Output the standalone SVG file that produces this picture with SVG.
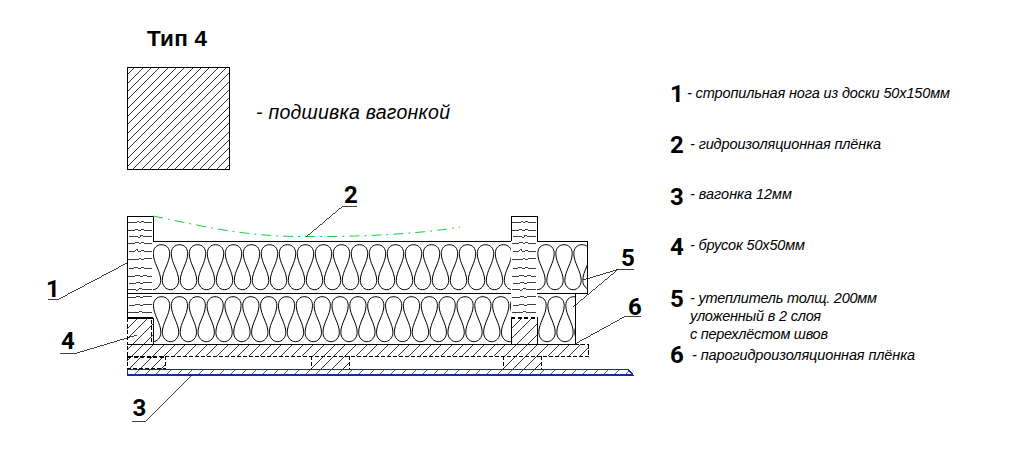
<svg xmlns="http://www.w3.org/2000/svg" width="1014" height="473" viewBox="0 0 1014 473" shape-rendering="crispEdges">
<style>
text{font-family:"Liberation Sans",Arial,sans-serif;fill:#000}
.num{font-family:Roboto,"Liberation Sans",sans-serif;font-size:24px;font-weight:700}
.leg{font-size:14.500px;font-style:italic}
.l{fill:none;stroke:#000;stroke-width:.75}
.w{fill:none;stroke:#000;stroke-width:1;shape-rendering:geometricPrecision}
.h{fill:none;stroke-width:.8}
.t{fill:none;stroke:#000;stroke-width:1.400}
.d{fill:none;stroke:#000;stroke-width:1;stroke-dasharray:4 2}
.dt{fill:none;stroke:#000;stroke-width:2;stroke-dasharray:4 2.500}
</style>
<defs>
<clipPath id="c-square"><rect x="127" y="67" width="102" height="102"/></clipPath>
<clipPath id="c-wood"><rect x="127" y="318" width="26" height="26"/><rect x="511" y="318" width="26" height="26"/><rect x="127" y="344" width="461" height="12"/><rect x="127" y="356" width="38" height="13"/><rect x="311" y="356" width="38" height="13"/><rect x="503" y="356" width="38" height="13"/></clipPath>
<clipPath id="c-blue"><path d="M127.500,369.500H628L633,375H127.500Z"/></clipPath>
<clipPath id="c-left"><rect x="153" y="241" width="358" height="104"/></clipPath>
<clipPath id="c-up"><rect x="537" y="241" width="50" height="52"/></clipPath>
<clipPath id="c-low"><rect x="537" y="293" width="38" height="51"/></clipPath>
<path id="hatch" class="h" d="M127,318l-60,60M137.670,318l-60,60M148.330,318l-60,60M159,318l-60,60M169.670,318l-60,60M180.330,318l-60,60M191,318l-60,60M201.670,318l-60,60M212.330,318l-60,60M223,318l-60,60M233.670,318l-60,60M244.330,318l-60,60M255,318l-60,60M265.670,318l-60,60M276.330,318l-60,60M287,318l-60,60M297.670,318l-60,60M308.330,318l-60,60M319,318l-60,60M329.670,318l-60,60M340.330,318l-60,60M351,318l-60,60M361.670,318l-60,60M372.330,318l-60,60M383,318l-60,60M393.670,318l-60,60M404.330,318l-60,60M415,318l-60,60M425.670,318l-60,60M436.330,318l-60,60M447,318l-60,60M457.670,318l-60,60M468.330,318l-60,60M479,318l-60,60M489.670,318l-60,60M500.330,318l-60,60M511,318l-60,60M521.670,318l-60,60M532.330,318l-60,60M543,318l-60,60M553.670,318l-60,60M564.330,318l-60,60M575,318l-60,60M585.670,318l-60,60M596.330,318l-60,60M607,318l-60,60M617.670,318l-60,60M628.330,318l-60,60M639,318l-60,60M649.670,318l-60,60M660.330,318l-60,60M671,318l-60,60M681.670,318l-60,60M692.330,318l-60,60"/>
<path id="wave" d="M0,3.700C4.800,3.700 8.200,7 8.200,12.500C8.200,22 0.800,30 0.800,39.500C0.800,44.500 4.400,48.700 9,48.700C13.600,48.700 17.200,44.500 17.200,39.500C17.200,30 9.800,22 9.800,12.500C9.800,7 13.200,3.700 18,3.700" class="w"/>
<path id="grain" d="M1,222H7L9,223L11,221L13,223L15,221L18,223L21,222H25M1,230H8L10,229L12,231L15,229L18,231L25,230M2,236H9L12,238L14,235L17,237L20,236H25M1,243H8L11,242L13,244L15,242L18,244L25,243M2,251H8L10,249L12,252L15,250L18,252L25,251M1,259H9L11,260L13,258L15,260L18,258L25,259M2,268H7L10,267L12,269L15,267L18,269L21,268H25M1,276H8L11,275L14,277L17,275L20,276H25M2,283H9L12,282L14,284L17,282L25,283M1,289H8L10,291L13,288L16,290L19,289L25,289M1,297H9L12,296L14,298L17,296L25,297M2,305H8L11,304L14,306L17,304L25,305M1,312H7L10,313L13,311L16,313L25,312" class="l"/>
</defs>

<g id="title"><text x="147" y="45.500" font-size="22.500" font-weight="bold" textLength="60">Тип 4</text></g>

<g id="sample">
<path clip-path="url(#c-square)" class="h" stroke="#000" d="M135.300,67l-210,210M143.700,67l-210,210M152,67l-210,210M160.300,67l-210,210M168.700,67l-210,210M177,67l-210,210M185.300,67l-210,210M193.700,67l-210,210M202,67l-210,210M210.300,67l-210,210M218.700,67l-210,210M227,67l-210,210M235.300,67l-210,210M243.700,67l-210,210M252,67l-210,210M260.300,67l-210,210M268.700,67l-210,210M277,67l-210,210M285.300,67l-210,210M293.700,67l-210,210M302,67l-210,210M310.300,67l-210,210M318.700,67l-210,210M327,67l-210,210"/>
<rect x="127.500" y="67.500" width="102" height="102" class="t"/>
<text x="256" y="118.500" font-size="19.500" font-style="italic" textLength="194">- подшивка вагонкой</text>
</g>

<g id="insulation">
<g clip-path="url(#c-left)">
<g transform="translate(-.5,241)"><use href="#wave" x="144"/><use href="#wave" x="162"/><use href="#wave" x="180"/><use href="#wave" x="198"/><use href="#wave" x="216"/><use href="#wave" x="234"/><use href="#wave" x="252"/><use href="#wave" x="270"/><use href="#wave" x="288"/><use href="#wave" x="306"/><use href="#wave" x="324"/><use href="#wave" x="342"/><use href="#wave" x="360"/><use href="#wave" x="378"/><use href="#wave" x="396"/><use href="#wave" x="414"/><use href="#wave" x="432"/><use href="#wave" x="450"/><use href="#wave" x="468"/><use href="#wave" x="486"/><use href="#wave" x="504"/></g>
<g transform="translate(-.5,293)"><use href="#wave" x="144.150"/><use href="#wave" x="162"/><use href="#wave" x="179.850"/><use href="#wave" x="197.700"/><use href="#wave" x="215.550"/><use href="#wave" x="233.400"/><use href="#wave" x="251.250"/><use href="#wave" x="269.100"/><use href="#wave" x="286.950"/><use href="#wave" x="304.800"/><use href="#wave" x="322.650"/><use href="#wave" x="340.500"/><use href="#wave" x="358.350"/><use href="#wave" x="376.200"/><use href="#wave" x="394.050"/><use href="#wave" x="411.900"/><use href="#wave" x="429.750"/><use href="#wave" x="447.600"/><use href="#wave" x="465.450"/><use href="#wave" x="483.300"/><use href="#wave" x="501.150"/></g>
</g>
<g clip-path="url(#c-up)"><g transform="translate(0,241)"><use href="#wave" x="528"/><use href="#wave" x="546"/><use href="#wave" x="564"/><use href="#wave" x="582"/></g></g>
<g clip-path="url(#c-low)"><g transform="translate(0,293)"><use href="#wave" x="538"/><use href="#wave" x="556"/><use href="#wave" x="574"/></g></g>
<path d="M153,241.500H511M537,241.500H587.500V293.500M128,293.500H511M537,293.500H587.500M575.500,293.500V344.500M127,344.500H575" fill="none" stroke="#000"/>
</g>

<g id="rafter-1">
<path d="M153.500,241V216.500H127.500V318" class="t"/>
<use href="#grain" x="127"/>
</g>
<g id="rafter-2">
<path d="M511.500,241V216.500H537.500V241" class="t"/>
<use href="#grain" x="511"/>
</g>

<g id="wood-hatch"><use href="#hatch" clip-path="url(#c-wood)" stroke="#000"/></g>

<g id="batten-1">
<path d="M127.500,318H153" class="t"/>
<path d="M127.500,318V344M151.500,320V344" class="d"/>
<path d="M153.500,318V344" fill="none" stroke="#000"/>
</g>
<g id="batten-2">
<path d="M511,318H537.500" class="dt"/>
<path d="M511.500,318V344M537.500,318V344" class="t"/>
</g>

<g id="board">
<path d="M575,344.500H588V356H127V344.500M588,344.500V356" class="d"/>
</g>

<g id="lath-1">
<path d="M127,356.500H165" class="dt"/>
<path d="M127,368.500H165M127,356V369M165,356V369" class="d"/>
</g>
<g id="lath-2">
<path d="M311,356V369M349,356V369" class="d"/>
</g>
<g id="lath-3">
<path d="M503,356V369M541,356V369" class="d"/>
</g>

<g id="lining">
<g clip-path="url(#c-blue)"><use href="#hatch" stroke="#1a2a9a"/></g>
<path d="M127.500,369.500H628L633,375H127.500Z" fill="none" stroke="#1a2a9a" stroke-width="1.300"/>
</g>

<g id="connectors">
<path d="M153,216C210,228 250,237 306,236.500C360,237 420,234 460,227" fill="none" stroke="#18d040" stroke-width="1" stroke-dasharray="10 5 2 5" style="shape-rendering:geometricPrecision"/>
<path d="M48,299.500H58L127,263" class="l"/>
<path d="M60,353H77L137,335" class="l"/>
<path d="M357,206H343L306,237" class="l"/>
<path d="M132,421.500H145L192,375" class="l"/>
<path d="M634,269.500H618L583,280M618,269.500L573,307" class="l"/>
<path d="M641,316.500H625L575,344" class="l"/>
</g>

<g id="labels">
<text class="num" x="46" y="297">1</text>
<text class="num" x="344" y="203">2</text>
<text class="num" x="132.500" y="416">3</text>
<text class="num" x="61" y="349">4</text>
<text class="num" x="621" y="266">5</text>
<text class="num" x="628" y="315">6</text>
</g>

<g id="legend">
<text class="num" x="670" y="102">1</text><text class="leg" x="687" y="98" textLength="263">- стропильная нога из доски 50х150мм</text>
<text class="num" x="670" y="153">2</text><text class="leg" x="690" y="149" textLength="191">- гидроизоляционная плёнка</text>
<text class="num" x="670" y="205">3</text><text class="leg" x="690" y="199" textLength="102">- вагонка 12мм</text>
<text class="num" x="670" y="255">4</text><text class="leg" x="690" y="250" textLength="115">- брусок 50х50мм</text>
<text class="num" x="670" y="307">5</text><text class="leg" x="690" y="303" textLength="187">- утеплитель толщ. 200мм</text>
<text class="leg" x="690" y="321" textLength="131">уложенный в 2 слоя</text>
<text class="leg" x="690" y="339" textLength="138">с перехлёстом швов</text>
<text class="num" x="670" y="363">6</text><text class="leg" x="692" y="360" textLength="223">- парогидроизоляционная плёнка</text>
</g>
</svg>
